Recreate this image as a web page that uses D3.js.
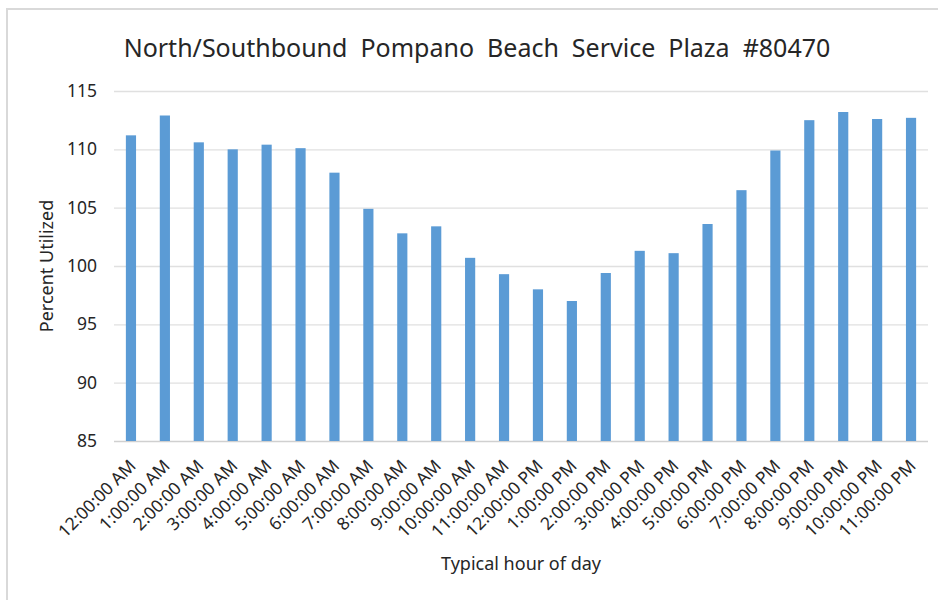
<!DOCTYPE html>
<html>
<head>
<meta charset="utf-8">
<script src="https://cdn.jsdelivr.net/npm/d3@7"></script>
<style>
  body { margin: 0; background: #fff; }
  text { font-family: "Noto Sans", "Open Sans", sans-serif; fill: #262626; }
</style>
</head>
<body>
<svg id="chart" width="938" height="600"></svg>
<script>
// hours of the day, as labelled in the sheet
var hours = ["12:00:00 AM","1:00:00 AM","2:00:00 AM","3:00:00 AM","4:00:00 AM","5:00:00 AM",
    "6:00:00 AM","7:00:00 AM","8:00:00 AM","9:00:00 AM","10:00:00 AM","11:00:00 AM",
    "12:00:00 PM","1:00:00 PM","2:00:00 PM","3:00:00 PM","4:00:00 PM","5:00:00 PM",
    "6:00:00 PM","7:00:00 PM","8:00:00 PM","9:00:00 PM","10:00:00 PM","11:00:00 PM"];
var utilized = [111.2, 112.9, 110.6, 110.0, 110.4, 110.1, 108.0, 104.9, 102.8, 103.4, 100.7, 99.3,
    98.0, 97.0, 99.4, 101.3, 101.1, 103.6, 106.5, 109.9, 112.5, 113.2, 112.6, 112.7];
var yTicks = [85, 90, 95, 100, 105, 110, 115];

var title = "North/Southbound  Pompano  Beach  Service  Plaza  #80470";

var svg = d3.select("#chart");
var margin = {left: 114, right: 10, top: 91, bottom: 159};
var W = 938, H = 600;

// chart frame (only top & left edges are visible in the crop)
svg.append("path")
    .attr("d", "M7,600 L7,9 L938,9")
    .attr("fill", "none").attr("stroke", "#d9d9d9").attr("stroke-width", 2);

var x = d3.scaleBand().domain(hours)
    .range([margin.left, W - margin.right])
    .paddingInner(0.7).paddingOuter(0.35);

var y = d3.scaleLinear().domain([85, 115])
    .range([H - margin.bottom, margin.top]);

// gridlines
svg.append("g").selectAll("line").data(yTicks).enter()
    .append("line")
    .attr("x1", margin.left).attr("x2", W - margin.right)
    .attr("y1", function(d){ return y(d) + 0.5; })
    .attr("y2", function(d){ return y(d) + 0.5; })
    .attr("stroke", function(d){ return d == 85 ? "#d0d0d0" : "#e0e0e0"; })
    .attr("stroke-width", 1.3);

// bars
svg.append("g").selectAll("rect").data(utilized).enter()
    .append("rect")
    .attr("x", function(d, i){ return x(hours[i]); })
    .attr("width", x.bandwidth())
    .attr("y", function(d){ return y(d); })
    .attr("height", function(d){ return y(85) - y(d); })
    .attr("fill", "#5b9bd5");

// y axis labels
var yAxis = d3.axisLeft(y).tickValues(yTicks).tickSize(0).tickPadding(0);
var gy = svg.append("g").attr("transform", "translate(97,0)").call(yAxis);
gy.select(".domain").remove();
gy.selectAll("text").attr("font-size", 17.5).attr("fill", "#404040")
    .style("font-family", "'Noto Sans', sans-serif");

// x labels, rotated 45deg
svg.append("g").selectAll("text").data(hours).enter()
    .append("text")
    .attr("transform", function(d){
        return "translate(" + (x(d) + x.bandwidth() / 2 + 6) + ",467) rotate(-45)";
    })
    .attr("text-anchor", "end")
    .attr("font-size", 17.5)
    .attr("fill", "#404040")
    .text(function(d){ return d; });

// title
svg.append("text")
    .attr("x", 477).attr("y", 57)
    .attr("text-anchor", "middle")
    .attr("font-size", 25)
    .style("white-space", "pre")
    .text(title);

// axis titles
svg.append("text")
    .attr("transform", "translate(53,266) rotate(-90)")
    .attr("text-anchor", "middle")
    .attr("font-size", 18)
    .text("Percent Utilized");

svg.append("text")
    .attr("x", 521).attr("y", 570)
    .attr("text-anchor", "middle")
    .attr("font-size", 18)
    .text("Typical hour of day");
</script>
</body>
</html>
